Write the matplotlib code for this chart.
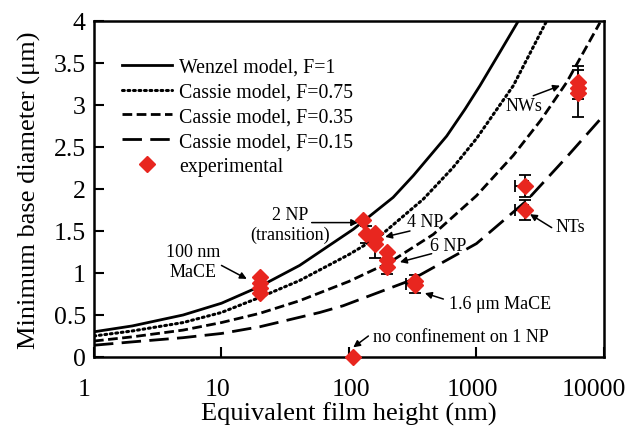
import matplotlib
matplotlib.use("Agg")
import matplotlib.pyplot as plt
from matplotlib.transforms import ScaledTranslation

plt.rcParams["font.family"] = ["Liberation Serif", "DejaVu Serif"]

# --- model curves (film height nm, base diameter um) ---
wenzel_x = [1, 2, 5, 10, 20, 41, 108, 222, 320, 584, 813, 1065, 1528, 2130]
wenzel_y = [0.30, 0.37, 0.50, 0.64, 0.84, 1.09, 1.52, 1.90, 2.16, 2.63, 2.95, 3.23, 3.63, 4.0]

cassie75_x = [1, 2, 5, 10, 20, 41, 100, 175, 383, 650, 1000, 1945, 3550]
cassie75_y = [0.25, 0.31, 0.41, 0.53, 0.71, 0.91, 1.22, 1.44, 1.88, 2.25, 2.60, 3.23, 4.0]

cassie35_x = [1, 2, 5, 10, 20, 41, 100, 210, 459, 1000, 1945, 3200, 5100, 9300]
cassie35_y = [0.19, 0.24, 0.32, 0.41, 0.52, 0.67, 0.90, 1.13, 1.46, 1.92, 2.40, 2.82, 3.27, 3.98]

cassie15_x = [1, 2, 5, 10, 20, 59, 90, 301, 1000, 2470, 5100, 10000]
cassie15_y = [0.14, 0.18, 0.23, 0.28, 0.36, 0.53, 0.61, 0.91, 1.35, 1.86, 2.38, 2.88]

# --- experimental points ---
exp_x = [20, 20, 20, 20, 130, 135, 160, 160, 160, 200, 200, 200,
         330, 330, 2400, 2400, 6300, 6300, 6300, 108]
exp_y = [0.95, 0.88, 0.82, 0.76, 1.63, 1.46, 1.48, 1.41, 1.34, 1.25, 1.15, 1.07,
         0.90, 0.86, 2.04, 1.75, 3.27, 3.20, 3.14, 0.0]

# error bars (only those visible in the reference)
err_x = [135, 160, 200, 330, 2400, 2400, 6300, 6300]
err_y = [1.46, 1.34, 1.07, 0.87, 2.04, 1.75, 3.27, 3.14]
err_dy = [0.10, 0.16, 0.08, 0.11, 0.13, 0.12, 0.20, 0.28]
err_dx_lo = [0, 0, 0, 50, 400, 400, 0, 0]
err_dx_hi = [0, 0, 0, 25, 120, 120, 0, 0]

x_ticks = [1, 10, 100, 1000, 10000]
x_tick_labels = ["1", "10", "100", "1000", "10000"]
y_ticks = [0, 0.5, 1, 1.5, 2, 2.5, 3, 3.5, 4]
y_tick_labels = ["0", "0.5", "1", "1.5", "2", "2.5", "3", "3.5", "4"]

fig = plt.figure(figsize=(6.29, 4.27), dpi=100)
ax = fig.add_axes([0.1494, 0.1616, 0.8108, 0.7869])

ax.plot(wenzel_x, wenzel_y, color="black", lw=2.0, ls="-",
        label="Wenzel model, F=1")
ax.plot(cassie75_x, cassie75_y, color="black", lw=2.2, ls=(0, (0.6, 1.2)),
        dash_capstyle="round", label="Cassie model, F=0.75")
ax.plot(cassie35_x, cassie35_y, color="black", lw=2.0, ls=(0, (3.5, 1.6)),
        label="Cassie model, F=0.35")
ax.plot(cassie15_x, cassie15_y, color="black", lw=2.0, ls=(0, (7, 3)),
        label="Cassie model, F=0.15")

ax.errorbar(err_x, err_y, yerr=err_dy, xerr=[err_dx_lo, err_dx_hi], fmt="none",
            ecolor="black", elinewidth=1.3, capsize=4, capthick=1.3, zorder=3)
ax.plot(exp_x, exp_y, ls="none", marker="D", ms=8, color="#e8261f",
        mec="#e8261f", label="experimental", zorder=4, clip_on=False)

ax.set_xscale("log")
ax.set_xlim(1, 10000)
ax.set_ylim(0, 4)
ax.set_xticks(x_ticks)
ax.set_xticklabels(x_tick_labels)
ax.xaxis.set_minor_locator(matplotlib.ticker.NullLocator())
ax.set_yticks(y_ticks)
ax.set_yticklabels(y_tick_labels)
ax.tick_params(direction="in", length=7, width=1.5, labelsize=18.5,
               top=False, right=False)
ax.tick_params(axis="x", pad=15)
ax.tick_params(axis="y", pad=6)
for s in ax.spines.values():
    s.set_linewidth(1.8)

# the reference's x labels sit a little left of their ticks
for lab, dx in zip(ax.get_xticklabels(), [-10, -4, 2, -4, -10]):
    lab.set_transform(lab.get_transform() + ScaledTranslation(dx / 100, 0, fig.dpi_scale_trans))

ax.set_xlabel("Equivalent film height (nm)", fontsize=19, labelpad=1)
ax.set_ylabel("Minimum base diameter (μm)", fontsize=19, labelpad=9)

ax.legend(loc="upper left", bbox_to_anchor=(0.04, 0.915), frameon=False,
          fontsize=14.3, handlelength=2.5, handletextpad=0.35,
          labelspacing=0.3, numpoints=1, borderaxespad=0)

arrow = dict(arrowstyle="-|>", color="black", lw=1.1, mutation_scale=10,
             shrinkA=0, shrinkB=0)
notes = [
    ("100 nm\nMaCE", (15.8, 0.93), (6.0, 1.14), (10, 1.09)),
    ("2 NP\n(transition)", (118, 1.60), (34.5, 1.58), (51, 1.60)),
    ("4 NP", (192, 1.43), (394, 1.61), (301, 1.50)),
    ("6 NP", (251, 1.13), (597, 1.33), (445, 1.23)),
    ("1.6 μm MaCE", (394, 0.76), (1528, 0.64), (550, 0.69)),
    ("no confinement on 1 NP", (108, 0.115), (751, 0.24), (142, 0.25)),
    ("NTs", (2630, 1.70), (5410, 1.55), (3890, 1.54)),
    ("NWs", (4520, 3.23), (2360, 2.99), (2790, 3.11)),
]
for text, tip, pos, tail in notes:
    ax.text(pos[0], pos[1], text, fontsize=13, ha="center", va="center",
            linespacing=1.2)
    ax.annotate("", xy=tip, xytext=tail, arrowprops=arrow)

fig.savefig("out.png", dpi=100)
